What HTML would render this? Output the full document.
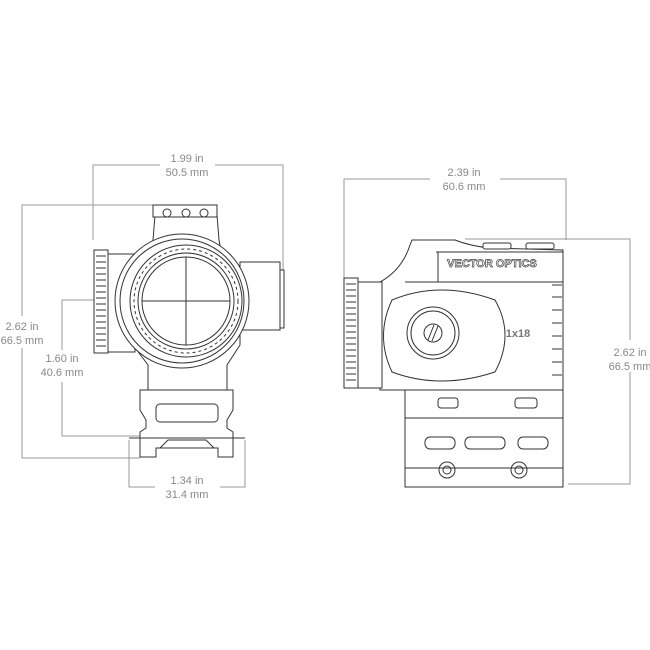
<!DOCTYPE html>
<html><head><meta charset="utf-8"><style>
html,body{margin:0;padding:0;background:#fff}
svg{display:block}
.d{stroke:#999;stroke-width:1;fill:none}
.t{font-family:"Liberation Sans",sans-serif;font-size:11px;fill:#888;text-anchor:middle}
.s{stroke:#333;stroke-width:1;fill:#fff}
.n{stroke:#333;stroke-width:1;fill:none}
</style></head><body>
<svg width="650" height="650" viewBox="0 0 650 650" xmlns="http://www.w3.org/2000/svg">
<!-- dimension lines left -->
<path class="d" d="M93 240V165H160M215 165H283V290"/>
<text class="t" x="187" y="162">1.99 in</text><text class="t" x="187" y="176">50.5 mm</text>
<path class="d" d="M215 205H22V316M22 348V458H140"/>
<text class="t" x="22" y="330">2.62 in</text><text class="t" x="22" y="344">66.5 mm</text>
<path class="d" d="M187 300H62V350M62 382V436H140"/>
<text class="t" x="62" y="362">1.60 in</text><text class="t" x="62" y="376">40.6 mm</text>
<path class="d" d="M129 440V487H155M220 487H245V440"/>
<text class="t" x="187" y="484">1.34 in</text><text class="t" x="187" y="498">31.4 mm</text>
<!-- dimension lines right -->
<path class="d" d="M344 290V179H430M500 179H566V240"/>
<text class="t" x="464" y="176">2.39 in</text><text class="t" x="464" y="190">60.6 mm</text>
<path class="d" d="M465 239H630V340M630 372V484H568"/>
<text class="t" x="630" y="356">2.62 in</text><text class="t" x="630" y="370">66.5 mm</text>

<!-- LEFT SCOPE -->
<path class="s" d="M155 215 L153 240 Q148 262 133 270 L133 345 L148 365 L148 390 L227 390 L227 365 L240 345 L240 270 Q222 262 219 240 L217 215 Z"/>
<rect class="s" x="153" y="205" width="64" height="12"/>
<circle class="n" cx="167" cy="213" r="4"/><circle class="n" cx="186" cy="213" r="4"/><circle class="n" cx="204" cy="213" r="4"/>
<path class="s" d="M240 262 H280 V330 H240 Z"/>
<rect class="s" x="280" y="270" width="4" height="58"/>
<rect class="s" x="105" y="254" width="30" height="98"/>
<rect class="s" x="94" y="250" width="14" height="103"/>
<path class="n" d="M96 256H106M96 262H106M96 268H106M96 274H106M96 280H106M96 286H106M96 292H106M96 298H106M96 304H106M96 310H106M96 316H106M96 322H106M96 328H106M96 334H106M96 340H106M96 346H106"/>
<circle class="s" cx="182" cy="301" r="67"/>
<circle class="n" cx="182" cy="301" r="62"/>
<circle class="n" cx="186" cy="301" r="56" stroke-width="3" stroke="#555"/>
<circle class="n" cx="186" cy="301" r="52" stroke-dasharray="3 3"/>
<circle class="n" cx="186" cy="301" r="48"/>
<circle class="n" cx="186" cy="301" r="44"/>
<path class="n" d="M186 257V345M142 301H230" stroke="#666"/>
<path class="s" d="M140 390 H233 V410 L227 420 V428 L233 432 V457 H218 V448 H156 V457 H140 V432 L146 428 V420 L140 410 Z"/>
<rect class="n" x="156" y="404" width="62" height="18" rx="4"/>
<path class="n" d="M160 448 L168 440 H206 L214 448"/>
<path class="n" d="M129 438 H245"/>

<!-- RIGHT SCOPE -->
<path class="s" d="M410 245 Q402 270 380 282 V390 H563 V280 L563 250 L490 248 Q470 246 455 240 H412 Z"/>
<path class="n" d="M436 252 H563 M438 252 V282 M405 282 H563"/>
<rect class="s" x="483" y="243" width="28" height="6" rx="2"/><rect class="s" x="526" y="243" width="28" height="6" rx="2"/>
<text x="492" y="267" style="font-family:'Liberation Sans',sans-serif;font-size:11px;font-weight:bold;fill:#fff;stroke:#444;stroke-width:.7;text-anchor:middle">VECTOR OPTICS</text>
<path class="s" d="M392 300 Q440 280 495 300 Q515 335 495 372 Q440 390 392 372 Q375 336 392 300 Z"/>
<circle class="s" cx="433" cy="333" r="26"/><circle class="n" cx="433" cy="333" r="22"/>
<circle class="n" cx="433" cy="333" r="9"/><path class="n" d="M428 340 L434 325M432 341 L438 326"/>
<text x="518" y="337" style="font-family:'Liberation Sans',sans-serif;font-size:11px;font-weight:bold;fill:#777;text-anchor:middle">1x18</text>
<path class="n" d="M552 285h10M552 297h10M552 310h10M552 323h10M552 336h10M552 349h10M552 362h10M552 375h10"/>
<rect class="s" x="356" y="282" width="26" height="106"/>
<rect class="s" x="344" y="278" width="14" height="110"/>
<path class="n" d="M346 284h10M346 290h10M346 296h10M346 302h10M346 308h10M346 314h10M346 320h10M346 326h10M346 332h10M346 338h10M346 344h10M346 350h10M346 356h10M346 362h10M346 368h10M346 374h10M346 380h10"/>
<rect class="s" x="405" y="390" width="158" height="97"/>
<path class="n" d="M405 418H563M405 468H563"/>
<rect class="n" x="438" y="398" width="20" height="10" rx="3"/><rect class="n" x="515" y="398" width="22" height="10" rx="3"/>
<rect class="n" x="425" y="437" width="30" height="12" rx="5"/><rect class="n" x="465" y="437" width="40" height="12" rx="5"/><rect class="n" x="518" y="437" width="30" height="12" rx="5"/>
<circle class="n" cx="447" cy="470" r="8"/><circle class="n" cx="447" cy="470" r="4"/>
<circle class="n" cx="519" cy="470" r="8"/><circle class="n" cx="519" cy="470" r="4"/>
</svg>
</body></html>
